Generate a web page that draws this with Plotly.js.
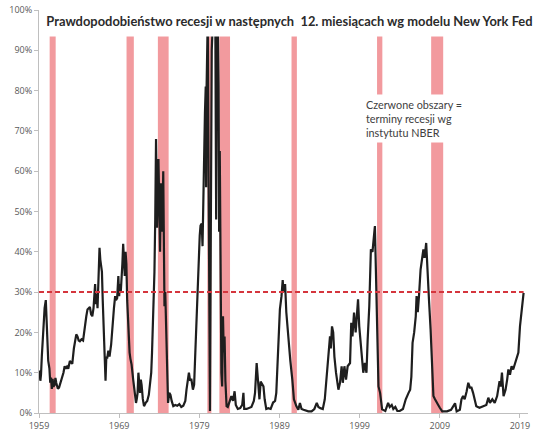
<!DOCTYPE html>
<html><head><meta charset="utf-8">
<script src="https://cdn.plot.ly/plotly-3.0.1.min.js"></script>
<style>html,body{margin:0;padding:0;background:#fff}#chart{width:536px;height:436px}</style>
</head><body><div id="chart"></div>
<script>
const years = [1959.00,1959.08,1959.17,1959.25,1959.35,1959.55,1959.70,1959.85,1959.95,1960.05,1960.15,1960.30,1960.40,1960.50,1960.60,1960.70,1960.80,1960.95,1961.05,1961.15,1961.35,1961.50,1961.70,1961.85,1962.05,1962.20,1962.35,1962.50,1962.65,1962.85,1963.00,1963.15,1963.35,1963.50,1963.65,1963.80,1963.95,1964.10,1964.30,1964.50,1964.70,1964.90,1965.05,1965.20,1965.35,1965.50,1965.65,1965.80,1965.90,1966.00,1966.10,1966.20,1966.30,1966.45,1966.55,1966.65,1966.75,1966.85,1966.95,1967.10,1967.20,1967.30,1967.40,1967.50,1967.65,1967.80,1968.00,1968.10,1968.25,1968.35,1968.50,1968.60,1968.75,1968.90,1969.00,1969.10,1969.20,1969.30,1969.40,1969.50,1969.60,1969.70,1969.80,1969.90,1970.00,1970.15,1970.30,1970.40,1970.55,1970.75,1970.90,1971.00,1971.10,1971.20,1971.30,1971.40,1971.50,1971.60,1971.70,1971.80,1971.95,1972.10,1972.30,1972.50,1972.70,1972.85,1973.00,1973.10,1973.25,1973.40,1973.50,1973.60,1973.65,1973.72,1973.80,1973.90,1974.00,1974.10,1974.20,1974.30,1974.38,1974.50,1974.60,1974.65,1974.75,1974.85,1974.95,1975.10,1975.25,1975.40,1975.55,1975.75,1976.00,1976.25,1976.50,1976.75,1977.00,1977.25,1977.40,1977.55,1977.70,1977.85,1978.00,1978.20,1978.35,1978.50,1978.65,1978.80,1978.90,1979.05,1979.15,1979.30,1979.40,1979.50,1979.60,1979.70,1979.80,1979.85,1979.90,1980.00,1980.05,1980.15,1980.25,1980.33,1980.42,1980.55,1980.70,1980.85,1981.00,1981.10,1981.20,1981.30,1981.40,1981.47,1981.55,1981.65,1981.75,1981.85,1981.95,1982.05,1982.15,1982.25,1982.40,1982.55,1982.75,1983.00,1983.20,1983.40,1983.55,1983.80,1984.10,1984.35,1984.50,1984.60,1984.90,1985.20,1985.50,1985.80,1985.95,1986.15,1986.25,1986.35,1986.50,1986.65,1986.85,1987.00,1987.15,1987.35,1987.60,1987.90,1988.20,1988.45,1988.60,1988.85,1989.05,1989.25,1989.40,1989.50,1989.60,1989.70,1989.85,1990.05,1990.20,1990.35,1990.60,1990.80,1991.10,1991.35,1991.55,1991.75,1992.00,1992.30,1992.60,1993.00,1993.35,1993.65,1993.85,1994.10,1994.40,1994.65,1994.85,1995.00,1995.15,1995.30,1995.40,1995.55,1995.70,1995.85,1996.05,1996.35,1996.55,1996.75,1996.90,1997.10,1997.30,1997.50,1997.80,1997.95,1998.10,1998.30,1998.50,1998.80,1998.95,1999.15,1999.45,1999.65,1999.85,2000.00,2000.20,2000.40,2000.60,2000.90,2001.00,2001.15,2001.35,2001.55,2001.80,2002.20,2002.55,2002.75,2003.00,2003.20,2003.45,2003.70,2004.00,2004.40,2004.75,2005.10,2005.30,2005.45,2005.60,2005.80,2006.00,2006.10,2006.25,2006.40,2006.60,2006.95,2007.10,2007.30,2007.45,2007.65,2007.85,2008.00,2008.20,2008.40,2008.60,2008.80,2009.00,2009.30,2009.90,2010.40,2010.90,2011.10,2011.50,2011.70,2011.90,2012.10,2012.35,2012.55,2012.75,2012.95,2013.15,2013.35,2013.55,2013.95,2014.40,2014.80,2015.05,2015.25,2015.55,2015.85,2016.15,2016.45,2016.60,2016.75,2016.95,2017.20,2017.40,2017.55,2017.75,2017.95,2018.15,2018.40,2018.60,2018.80,2019.00,2019.20,2019.35,2019.45];
const prob = [10.5,10.0,8.0,9.5,14,22,26,28,24,20,13,11,7.5,8.8,6.0,8.5,6.5,7,8.7,7.5,6.0,6.3,7.5,8.3,10,11.6,11.0,11.5,11.0,12.9,12.5,12.2,16,17.5,19.5,19,18,17.8,18.3,18,21.5,24,25.7,26,26.3,24.5,24,26,29,32,27,29.5,26,36,41,38,35.5,35,28,19,12,8,14,13.5,15.5,14,17,20,24,26,29,28,28.5,34,29,32,30,36,37,42,36,34,40,37,28,20,15,13.5,12,8.3,5,3.3,2.5,3.5,5,10,8,5,8.3,7,3.5,1.7,2.5,3,4.5,6.6,10,15,24.9,35,48,68,60,46,55,63,52,40,57,48,45,60,40,26.5,30,20,15,2.5,5,4.5,3,1.7,2,1.8,2.2,1.5,1.8,3,5.8,8,10,8,8.5,5.8,7,15,23,32,39.7,44,46.5,47,41.4,55,68,74.5,81,56,80,98,98,60,20,0.5,40,90,98,97,95,48,96,97,81,45,65,30,10,6.6,24,15,19,8,1.7,1.5,2.5,4.2,3,5.4,2,1,1.2,2,5,1,1,1.2,1.5,3,5,12.4,9,8.3,3.4,7.8,7,6.6,3.4,1,1.2,1,2.6,3,5,15,25.7,29,33,30,31,32,25,20,15.8,13,8.3,3.4,1.7,0.8,2.5,1,0.8,0.5,0.4,0.4,1,2.5,1.5,1.2,1,3.4,9,13,17,19,16,21.5,20,14,10,5.8,7.5,11.6,7.5,11.6,8.3,11.6,12.4,22.4,19,24.9,20,28.2,21.5,16,10,12.4,10,18.2,26.5,40.6,40,46.4,36.4,21.5,6.6,5,0.9,0.5,2.5,1.5,2,1,1.5,0.5,0.5,1,3.4,5,5.8,9,17.4,20,24,29,25,29,35.6,40.6,38.5,42.2,34,28,20.7,13.3,4.2,3.4,2.5,2,1.3,0.4,0.4,0.8,2.4,0.4,0.8,3.4,4.2,3.4,5.4,7.5,6.3,6.3,5,3.4,1.7,1.3,1.7,2,3.8,2.5,3.4,2.5,4.2,7.9,6.6,10,4.2,5.8,8.3,10.8,9.5,11.6,10.8,12.4,14,15,21.5,25,28.2,29.8];
const recStart = [1960.33,1969.92,1973.83,1980.00,1981.50,1990.50,2001.17,2007.92];
const recEnd   = [1961.08,1970.83,1975.17,1980.50,1982.83,1991.17,2001.83,2009.42];
const tickYears = [1959,1969,1979,1989,1999,2009,2019];
const tickLabels = ["1959","1969","1979","1989","1999","2009","2019"];
const yTicks = [0,10,20,30,40,50,60,70,80,90,100];
const threshold = 30;
const titleText = "Prawdopodobieństwo recesji w następnych  12. miesiącach wg modelu New York Fed";
const noteText = "Czerwone obszary =<br>terminy recesji wg<br>instytutu NBER";

const shapes = recStart.map((s,i)=>({type:'rect',xref:'x',yref:'y',x0:s,x1:recEnd[i],y0:0,y1:100,fillcolor:'#f29a9e',line:{width:0},layer:'below'}));
// white box behind the title (covers top of plot)
shapes.push({type:'rect',xref:'paper',yref:'paper',x0:0.012,x1:1.02,y0:0.934,y1:1.05,fillcolor:'#ffffff',line:{width:0},layer:'above'});

const traces = [
  {x:years,y:prob,type:'scatter',mode:'lines',line:{color:'#1e1e1e',width:2.2},hoverinfo:'skip'},
  {x:[years[0],years[years.length-1]],y:[threshold,threshold],type:'scatter',mode:'lines',line:{color:'#d5353d',width:2,dash:'5px,3px'},hoverinfo:'skip'}
];

const axisFont = {family:'Open Sans, sans-serif',size:9,color:'#595959'};
const layout = {
  width:536,height:436,
  margin:{l:39,r:8,t:10,b:23},
  paper_bgcolor:'#ffffff',plot_bgcolor:'#ffffff',
  showlegend:false,
  title:{text:titleText,font:{family:'Lato, sans-serif',size:12.9,color:'#2b2b2b',weight:'bold'},xref:'container',x:0.54,xanchor:'center',yref:'container',y:0.951,yanchor:'middle'},
  xaxis:{range:[1959,2020],tickvals:tickYears,ticktext:tickLabels,showgrid:false,zeroline:false,showline:true,linecolor:'#bfbfbf',linewidth:1,ticks:'outside',ticklen:4,tickcolor:'#bfbfbf',tickfont:axisFont,fixedrange:true},
  yaxis:{range:[0,100],tickvals:yTicks,ticktext:yTicks.map(v=>v+'%'),showgrid:false,zeroline:false,showline:true,linecolor:'#bfbfbf',linewidth:1,ticks:'outside',ticklen:4,tickcolor:'#bfbfbf',tickfont:axisFont,fixedrange:true},
  shapes:shapes,
  annotations:[{text:noteText,xref:'paper',yref:'paper',x:0.66,y:0.792,xanchor:'left',yanchor:'top',align:'left',showarrow:false,bgcolor:'#ffffff',borderpad:3,font:{family:'Lato, sans-serif',size:10.8,color:'#404040'}}]
};
Plotly.newPlot('chart',traces,layout,{staticPlot:true,displayModeBar:false});
</script></body></html>
